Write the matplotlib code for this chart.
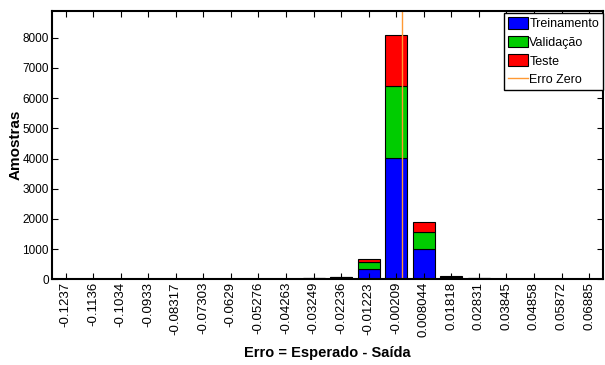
import matplotlib
matplotlib.use("Agg")
import matplotlib.pyplot as plt
import numpy as np

plt.rcParams['font.family'] = ['Liberation Sans', 'DejaVu Sans']

bin_labels = ["-0.1237", "-0.1136", "-0.1034", "-0.0933", "-0.08317", "-0.07303",
              "-0.0629", "-0.05276", "-0.04263", "-0.03249", "-0.02236", "-0.01223",
              "-0.00209", "0.008044", "0.01818", "0.02831", "0.03845", "0.04858",
              "0.05872", "0.06885"]
treino = [0, 0, 0, 0, 0, 0, 0, 0, 3, 10, 50, 340, 4010, 995, 70, 10, 2, 0, 0, 0]
valid = [0, 0, 0, 0, 0, 0, 0, 0, 1, 20, 10, 225, 2400, 560, 20, 25, 1, 0, 0, 0]
teste = [0, 0, 0, 0, 0, 0, 0, 0, 1, 5, 5, 120, 1680, 350, 20, 5, 1, 0, 0, 0]

centers = np.array([float(s) for s in bin_labels])
x = np.arange(len(bin_labels))
treino = np.array(treino)
valid = np.array(valid)
teste = np.array(teste)

fig = plt.figure(figsize=(6.05, 3.65), dpi=100)
ax = fig.add_axes([0.0855, 0.2348, 0.911, 0.736])

w = 0.8
b1 = ax.bar(x, treino, w, color=(0, 0, 1), edgecolor='black', linewidth=0.8, label='Treinamento')
b2 = ax.bar(x, valid, w, bottom=treino, color=(0, 0.8, 0), edgecolor='black', linewidth=0.8, label='Validação')
b3 = ax.bar(x, teste, w, bottom=treino + valid, color=(1, 0, 0), edgecolor='black', linewidth=0.8, label='Teste')

# posição do erro zero em unidades de bin
x0 = np.interp(0.0, centers, x)
l0 = ax.axvline(x0, color=(1, 0.6, 0.2), linewidth=1, label='Erro Zero')

total = treino + valid + teste
ax.set_xlim(-0.5, len(x) - 0.5)
ax.set_ylim(0, total.max() * 1.1)
ax.set_xticks(x)
ax.set_xticklabels(bin_labels, rotation=90, fontsize=9.5)
ax.set_yticks(np.arange(0, 9000, 1000))
ax.tick_params(axis='y', labelsize=8.5)
ax.tick_params(direction='in', top=True, right=True, length=4, width=0.8, pad=2)
for s in ax.spines.values():
    s.set_linewidth(1.5)

ax.set_ylabel('Amostras', fontsize=11, fontweight='bold', labelpad=0)
ax.set_xlabel('Erro = Esperado - Saída', fontsize=10.5, fontweight='bold', labelpad=6)

leg = ax.legend([b1, b2, b3, l0], ['Treinamento', 'Validação', 'Teste', 'Erro Zero'],
                loc='upper right', bbox_to_anchor=(1.0, 0.99), fontsize=9,
                fancybox=False, framealpha=1, edgecolor='black', borderpad=0.3,
                labelspacing=0.45, handlelength=1.6, handleheight=1.05,
                handletextpad=0.15, borderaxespad=0)
leg.get_frame().set_linewidth(1)

fig.savefig('out.png', dpi=100)
